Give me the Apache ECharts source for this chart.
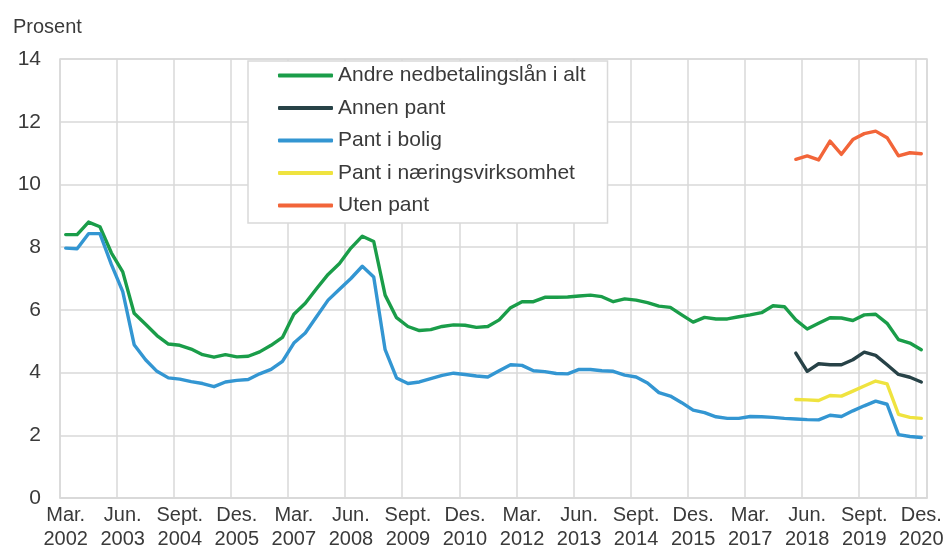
<!DOCTYPE html>
<html>
<head>
<meta charset="utf-8">
<script src="https://cdn.jsdelivr.net/npm/echarts@6/dist/echarts.min.js"></script>
<style>
  html, body { margin: 0; padding: 0; background: #fff; }
  #chart { width: 947px; height: 551px; }
</style>
</head>
<body>
<div id="chart"></div>
<script>
// kvartaler, mars 2002 - desember 2020
var maaneder = ['Mar.', 'Jun.', 'Sept.', 'Des.'];
var kvartaler = [];
for (var aar = 2002; aar <= 2020; aar++) {
	for (var q = 0; q < 4; q++) {
		kvartaler.push(maaneder[q] + ' ' + aar);
	}
}

var andreLaan = [
	8.40, 8.40, 8.80, 8.65, 7.82, 7.21, 5.89, 5.54, 5.18, 4.91,
	4.87, 4.75, 4.57, 4.49, 4.57, 4.50, 4.52, 4.66, 4.87, 5.12,
	5.86, 6.21, 6.68, 7.13, 7.48, 7.97, 8.35, 8.18, 6.47, 5.75,
	5.47, 5.34, 5.37, 5.47, 5.52, 5.51, 5.44, 5.47, 5.68, 6.07,
	6.26, 6.26, 6.40, 6.40, 6.41, 6.44, 6.47, 6.42, 6.26, 6.35,
	6.31, 6.23, 6.12, 6.08, 5.84, 5.61, 5.76, 5.71, 5.71, 5.78,
	5.84, 5.91, 6.13, 6.10, 5.68, 5.39, 5.57, 5.75, 5.74, 5.66,
	5.84, 5.86, 5.57, 5.05, 4.94, 4.73
];

var pantBolig = [
	7.97, 7.95, 8.43, 8.43, 7.45, 6.58, 4.89, 4.41, 4.04, 3.83,
	3.79, 3.71, 3.65, 3.55, 3.70, 3.75, 3.78, 3.96, 4.10, 4.36,
	4.94, 5.26, 5.79, 6.31, 6.66, 7.00, 7.39, 7.05, 4.73, 3.83,
	3.65, 3.70, 3.81, 3.91, 3.98, 3.94, 3.89, 3.86, 4.06, 4.25,
	4.23, 4.06, 4.03, 3.97, 3.96, 4.10, 4.10, 4.06, 4.04, 3.92,
	3.86, 3.67, 3.36, 3.25, 3.04, 2.80, 2.72, 2.59, 2.54, 2.54,
	2.60, 2.59, 2.57, 2.54, 2.52, 2.50, 2.49, 2.64, 2.60, 2.78,
	2.94, 3.09, 2.99, 2.02, 1.96, 1.93
];

// de tre siste seriene har bare tall for de siste tolv kvartalene
var annenPant = [4.62, 4.04, 4.28, 4.25, 4.25, 4.41, 4.65, 4.55, 4.25, 3.94, 3.85, 3.70];
var pantNaering = [3.14, 3.13, 3.11, 3.27, 3.25, 3.41, 3.57, 3.73, 3.64, 2.67, 2.57, 2.54];
var utenPant = [10.80, 10.91, 10.78, 11.38, 10.96, 11.43, 11.62, 11.70, 11.49, 10.91, 11.01, 10.98];

var tekstFarge = '#3a3a3a';
var gridFarge = '#d9d9d9';
var font = '"Liberation Sans", Arial, sans-serif';

var fyll = function(verdier) {
	var ut = [];
	for (var i = 0; i < kvartaler.length; i++) {
		var j = i - (kvartaler.length - verdier.length);
		ut.push(j >= 0 ? verdier[j] : null);
	}
	return ut;
};

var linje = function(navn, farge, data) {
	return {
		name: navn,
		type: 'line',
		data: data,
		symbol: 'none',
		lineStyle: { color: farge, width: 3.4, cap: 'round', join: 'round' },
		itemStyle: { color: farge },
		z: 3
	};
};

var myChart = echarts.init(document.getElementById('chart'));
var options = {
	backgroundColor: '#fff',
	animation: false,
	textStyle: { fontFamily: font },
	title: {
		text: 'Prosent',
		left: 8,
		top: 12,
		textStyle: { fontFamily: font, fontSize: 20, fontWeight: 'normal', color: tekstFarge }
	},
	legend: {
		orient: 'vertical',
		left: 248,
		top: 61,
		padding: [4, 22, 7, 30],
		backgroundColor: '#fff',
		borderColor: gridFarge,
		borderWidth: 1.5,
		icon: 'roundRect',
		itemWidth: 55,
		itemHeight: 4,
		itemGap: 11.5,
		textStyle: { fontFamily: font, fontSize: 21, color: tekstFarge, lineHeight: 21 },
		data: ['Andre nedbetalingslån i alt', 'Annen pant', 'Pant i bolig', 'Pant i næringsvirksomhet', 'Uten pant']
	},
	grid: {
		left: 60,
		right: 20,
		top: 59,
		bottom: 50,
		show: true,
		borderColor: gridFarge,
		borderWidth: 1.5
	},
	xAxis: {
		type: 'category',
		data: kvartaler,
		boundaryGap: true,
		axisLine: { show: true, lineStyle: { color: gridFarge, width: 1.5 } },
		axisTick: { show: false, interval: 4 },
		axisLabel: {
			interval: 4,
			margin: 5,
			fontSize: 20,
			lineHeight: 24,
			color: tekstFarge,
			fontFamily: font,
			formatter: function(v) { return v.replace(' ', '\n'); }
		},
		splitLine: { show: true, interval: 4, lineStyle: { color: gridFarge, width: 1.5 } }
	},
	yAxis: {
		type: 'value',
		min: 0,
		max: 14,
		interval: 2,
		axisLine: { show: false },
		axisTick: { show: false },
		axisLabel: { margin: 19, fontSize: 21, color: tekstFarge, fontFamily: font },
		splitLine: { show: true, lineStyle: { color: gridFarge, width: 1.5 } }
	},
	series: [
		linje('Andre nedbetalingslån i alt', '#1a9d49', andreLaan),
		linje('Annen pant', '#274247', fyll(annenPant)),
		linje('Pant i bolig', '#3396d2', pantBolig),
		linje('Pant i næringsvirksomhet', '#efe33f', fyll(pantNaering)),
		linje('Uten pant', '#f26539', fyll(utenPant))
	]
};
myChart.setOption(options, true);
</script>
</body>
</html>
